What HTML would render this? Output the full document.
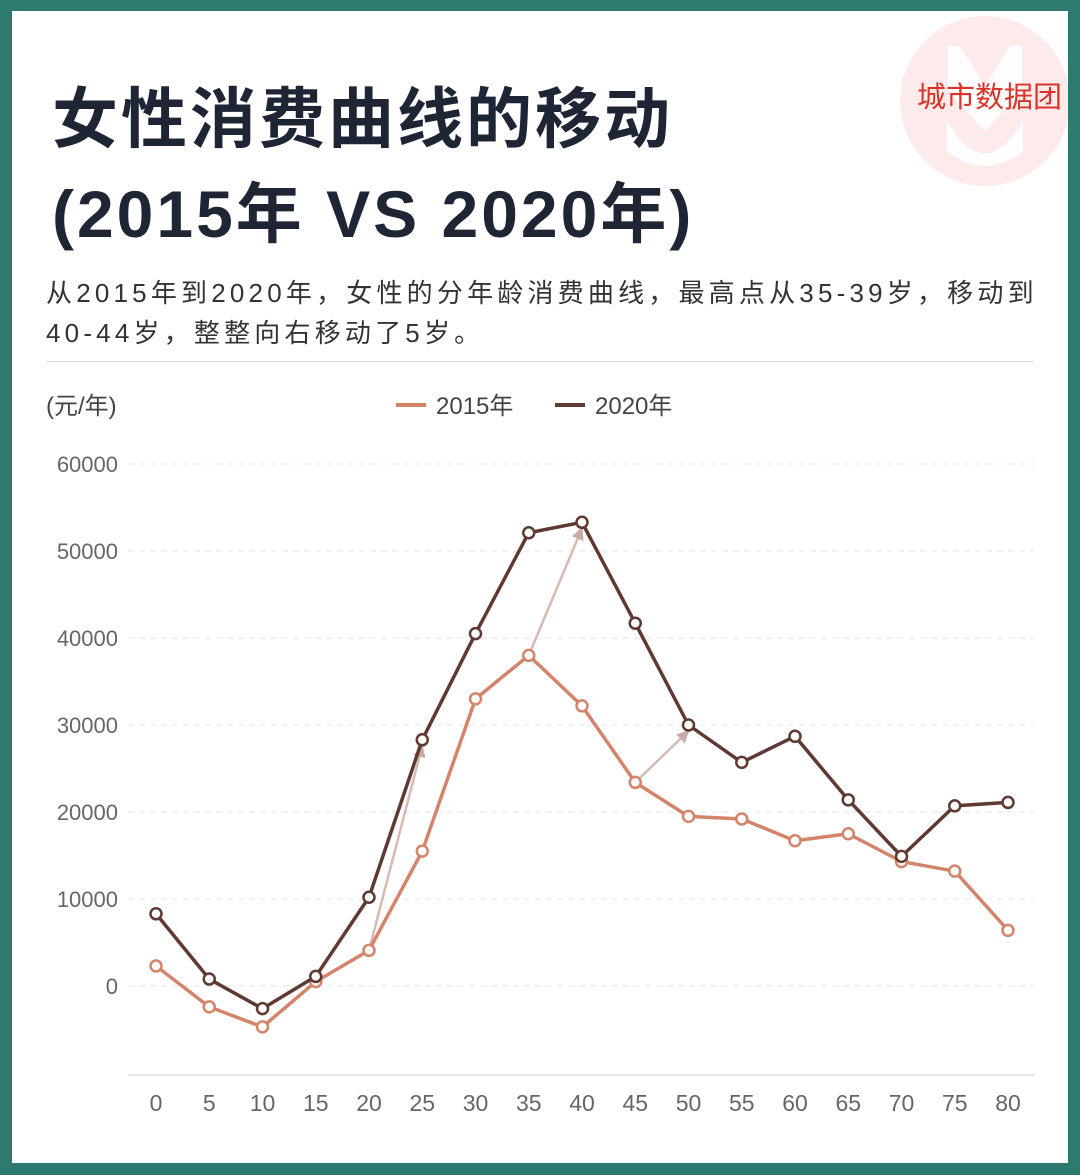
<!DOCTYPE html>
<html><head><meta charset="utf-8">
<style>
html,body{margin:0;padding:0}
body{width:1080px;height:1175px;background:#2f7a70;position:relative;overflow:hidden;font-family:"Liberation Sans","Noto Sans CJK SC",sans-serif}
#card{position:absolute;left:12px;top:11px;width:1056px;height:1152px;background:#fff;overflow:hidden}
.t{position:absolute;color:#1e2535;font-weight:bold;font-size:66px;left:40px;white-space:nowrap;letter-spacing:3px}
#sub{position:absolute;left:34px;top:262px;width:1020px;font-size:26px;line-height:40px;color:#333;letter-spacing:4.2px;white-space:nowrap}
#rule{position:absolute;left:34px;top:350px;width:988px;height:1px;background:#ddd}
</style></head><body>
<div id="card">
<svg style="position:absolute;left:0;top:0" width="1056" height="200">
<circle cx="973" cy="90" r="85" fill="#fcebea"/>
<path d="M948 35 L973 75 L998 35 L1010 35 L1010 80 L973 120 L936 80 L936 35 Z" fill="#fff" opacity="0.9"/>
<path d="M935 110 Q973 175 1011 110 L1011 140 Q973 170 935 140 Z" fill="#fff" opacity="0.9"/>
<text x="905" y="96" font-size="29" fill="#d9342b" font-family="Liberation Sans,Noto Sans CJK SC,sans-serif">城市数据团</text>
</svg>
<div class="t" style="top:55px">女性消费曲线的移动</div>
<div class="t" style="top:150px">(2015年 VS 2020年)</div>
<div id="sub">从2015年到2020年，女性的分年龄消费曲线，最高点从35-39岁，移动到<br>40-44岁，整整向右移动了5岁。</div>
<div id="rule"></div>
</div>
<svg id="chart" style="position:absolute;left:0;top:0" width="1080" height="1175"></svg>
<script>
const ages=[0,5,10,15,20,25,30,35,40,45,50,55,60,65,70,75,80];
const v2015=[2300,-2400,-4700,500,4100,15500,33000,38000,32200,23400,19500,19200,16700,17500,14300,13200,6400];
const v2020=[8300,800,-2600,1100,10200,28300,40500,52100,53300,41700,30000,25700,28700,21400,14900,20700,21100];
const yTicks=[0,10000,20000,30000,40000,50000,60000];
const arrows=[[20,25],[35,40],[45,50]];
const NS='http://www.w3.org/2000/svg';
const svg=document.getElementById('chart');
const X=a=>156+a*(1008-156)/80;
const Y=v=>986-v*(986-464)/60000;
function mk(t,at,p){const e=document.createElementNS(NS,t);for(const k in at)e.setAttribute(k,at[k]);(p||svg).appendChild(e);return e;}
const F='Liberation Sans,Noto Sans CJK SC,sans-serif';
yTicks.forEach(t=>{
 const g=mk('line',{x1:128,x2:1034,y1:Y(t),y2:Y(t),stroke:'#e6e6e6','stroke-dasharray':'6,5'});
 
 
 const tx=mk('text',{x:118,y:Y(t)+8,'text-anchor':'end','font-size':22,fill:'#666','font-family':F});
 tx.textContent=t;
 
 
});
const ax=mk('line',{x1:128,x2:1034,y1:1075,y2:1075,stroke:'#ccc'});


ages.forEach(a=>{
 const tx=mk('text',{x:X(a),y:1111,'text-anchor':'middle','font-size':23,fill:'#666','font-family':F});
 tx.textContent=a;
 
 
});
const yl=mk('text',{x:46,y:414,'font-size':24,fill:'#444','font-family':F});
yl.textContent='(元/年)';


[[396,'#d4846a','2015年'],[555,'#5e3a32','2020年']].forEach(([x,c,l])=>{
 const g=mk('g',{});
 
 
 mk('line',{x1:x,x2:x+30,y1:405,y2:405,stroke:c,'stroke-width':4},g);
 const t=mk('text',{x:x+40,y:414,'font-size':24,fill:'#444','font-family':F},g);t.textContent=l;
});
mk('defs',{}).innerHTML='<marker id="ah" viewBox="0 0 10 10" refX="9" refY="5" markerWidth="5" markerHeight="5" orient="auto"><path d="M0,0L10,5L0,10z" fill="#c9aca3"/></marker>';
arrows.forEach(([a,b])=>{
 const e=mk('line',{x1:X(a),y1:Y(v2015[ages.indexOf(a)]),x2:X(b),y2:Y(v2020[ages.indexOf(b)])+6,stroke:'#d6bbb2','stroke-width':2.5,'marker-end':'url(#ah)'});
 
 
});
function series(vals,c,name){
 const p=mk('polyline',{points:vals.map((v,i)=>X(ages[i])+','+Y(v)).join(' '),fill:'none',stroke:c,'stroke-width':3.5,'stroke-linejoin':'round'});
 
 
 vals.forEach((v,i)=>{
  const d=mk('circle',{cx:X(ages[i]),cy:Y(v),r:5.5,fill:'#fff',stroke:c,'stroke-width':2.5});
  
  
 });
}
series(v2015,'#d4846a','series-2015');
series(v2020,'#5e3a32','series-2020');
</script>
</body></html>
